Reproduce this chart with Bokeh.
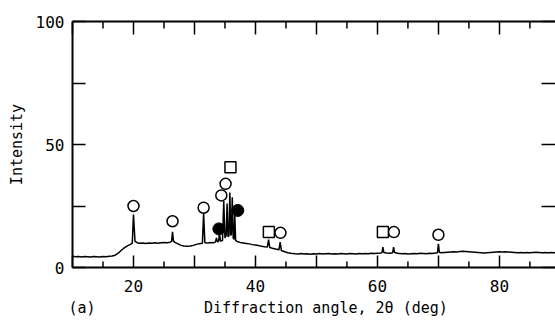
from bokeh.plotting import figure
from bokeh.models import LinearAxis, FixedTicker, Range1d, Title
from bokeh.embed import file_html
from bokeh.resources import INLINE

# ---- data ----
two_theta = [10.0, 10.5, 11.0, 11.5, 12.0, 12.5, 13.0, 13.5, 14.0, 14.5, 15.0, 15.5, 16.0, 16.5, 17.0, 17.5,
             18.0, 18.5, 19.0, 19.5, 19.8, 20.0, 20.25, 20.6, 21.0, 21.5, 22.0, 22.5, 23.0, 23.5, 24.0, 24.5,
             25.0, 25.5, 26.0, 26.25, 26.4, 26.55, 26.8, 27.3, 27.8, 28.3, 28.8, 29.3, 29.8, 30.3, 30.8, 31.3,
             31.5, 31.7, 32.2, 32.7, 33.2, 33.45, 33.6, 33.75, 33.95, 34.1, 34.25, 34.6, 34.8, 35.0, 35.2, 35.35,
             35.5, 35.65, 35.8, 35.95, 36.05, 36.2, 36.35, 36.5, 36.6, 36.75, 37.0, 37.5, 38.0, 38.5, 39.0, 39.5,
             40.0, 40.5, 41.0, 41.5, 41.95, 42.15, 42.35, 42.8, 43.3, 43.85, 44.05, 44.25, 44.8, 45.3, 45.8, 46.5,
             47.0, 47.5, 48.0, 48.5, 49.0, 49.5, 50.0, 50.5, 51.0, 51.5, 52.0, 52.5, 53.0, 53.5, 54.0, 54.5,
             55.0, 55.5, 56.0, 56.5, 57.0, 57.5, 58.0, 58.5, 59.0, 59.5, 60.0, 60.5, 60.75, 60.9, 61.05, 61.5,
             62.0, 62.5, 62.65, 62.8, 63.3, 64.0, 64.5, 65.0, 65.5, 66.0, 66.5, 67.0, 67.5, 68.0, 68.5, 69.0,
             69.5, 69.85, 70.0, 70.15, 70.5, 71.0, 71.5, 72.0, 72.5, 73.0, 73.5, 74.0, 74.5, 75.0, 75.5, 76.0,
             76.5, 77.0, 77.5, 78.0, 78.5, 79.0, 79.5, 80.0, 80.5, 81.0, 81.5, 82.0, 82.5, 83.0, 83.5, 84.0,
             84.5, 85.0, 85.5, 86.0, 86.5, 87.0, 87.5, 88.0, 88.5, 89.0, 89.5, 90.0]
intensity = [4.6, 4.4, 4.5, 4.3, 4.5, 4.4, 4.3, 4.5, 4.4, 4.3, 4.5, 4.4, 4.6, 4.7, 5.0, 5.8,
             7.0, 8.0, 8.8, 9.4, 9.9, 21.5, 10.6, 10.1, 9.9, 10.0, 9.8, 10.0, 9.9, 10.1, 9.9, 10.1,
             10.2, 10.1, 10.3, 10.6, 14.5, 10.8, 10.2, 9.6, 9.0, 8.7, 8.6, 8.7, 9.0, 9.4, 9.7, 9.9,
             22.0, 10.1, 10.0, 10.2, 10.1, 10.4, 12.0, 10.5, 10.6, 14.0, 10.8, 11.0, 27.0, 12.0, 13.0, 26.0,
             12.5, 12.8, 30.5, 13.0, 13.5, 28.6, 12.0, 11.5, 22.0, 11.0, 10.6, 10.2, 10.0, 9.8, 9.6, 9.3,
             9.1, 8.9, 8.6, 8.4, 8.3, 11.3, 8.1, 7.8, 7.5, 7.2, 10.3, 6.9, 6.4, 6.0, 5.8, 5.6,
             5.5, 5.7, 5.5, 5.6, 5.4, 5.6, 5.5, 5.7, 5.5, 5.6, 5.7, 5.5, 5.6, 5.5, 5.7, 5.6,
             5.5, 5.7, 5.6, 5.5, 5.7, 5.6, 5.7, 5.6, 5.8, 5.7, 5.8, 5.9, 6.0, 8.3, 6.1, 5.9,
             5.8, 6.0, 8.3, 6.1, 5.8, 5.6, 5.7, 5.5, 5.6, 5.7, 5.6, 5.8, 5.7, 5.6, 5.8, 5.7,
             5.9, 6.0, 9.6, 6.2, 6.0, 6.1, 6.2, 6.3, 6.4, 6.3, 6.5, 6.6, 6.5, 6.4, 6.3, 6.2,
             6.1, 6.0, 5.9, 6.0, 6.1, 6.2, 6.3, 6.4, 6.3, 6.4, 6.3, 6.2, 6.1, 6.0, 6.1, 6.0,
             6.1, 6.0, 6.1, 6.2, 6.1, 6.0, 6.1, 6.0, 6.1, 6.0, 6.1, 6.0]

open_circle_x = [20.0, 26.4, 31.5, 34.4, 35.1, 44.1, 62.7, 70.0]
open_circle_y = [25.0, 18.8, 24.3, 29.3, 34.0, 14.1, 14.4, 13.3]
square_x = [35.9, 42.2, 60.9]
square_y = [40.8, 14.4, 14.4]
filled_circle_x = [34.0, 37.1]
filled_circle_y = [15.7, 23.2]

x_labeled_ticks = [20, 40, 60, 80]
x_unlabeled_major_ticks = [10, 30, 50, 70, 90]
x_all_major_ticks = [10, 20, 30, 40, 50, 60, 70, 80, 90]
x_minor_ticks = [15, 25, 35, 45, 55, 65, 75, 85]
y_labeled_ticks = [0, 50, 100]
y_unlabeled_ticks = [25, 75]
y_all_ticks = [0, 25, 50, 75, 100]

panel_tag = "(a)"
x_title = "Diffraction angle, 2θ (deg)"
y_title = "Intensity"

X_MIN, X_MAX = 10, 89.2
Y_MIN, Y_MAX = 0, 100

FONT = "DejaVu Sans Mono"

p = figure(width=555, height=328, output_backend="svg", toolbar_location=None,
           x_range=Range1d(X_MIN, X_MAX), y_range=Range1d(Y_MIN, Y_MAX),
           min_border_left=72, min_border_right=0, min_border_top=21, min_border_bottom=61)
p.outline_line_color = None
p.grid.visible = False
p.background_fill_color = "white"
p.border_fill_color = "white"

# bottom axis: labelled long ticks are majors; other long ticks are minors; 5-deg ticks are rays
xa = p.xaxis[0]
xa.ticker = FixedTicker(ticks=x_labeled_ticks, minor_ticks=x_unlabeled_major_ticks)
xa.major_tick_in = 12
xa.major_tick_out = 0
xa.minor_tick_in = 12
xa.minor_tick_out = 0
xa.axis_line_width = 2
xa.major_tick_line_width = 1.5
xa.minor_tick_line_width = 1.5
xa.major_label_text_font = FONT
xa.major_label_text_font_size = "16px"
xa.major_label_text_color = "black"
xa.major_label_standoff = 12

# left axis
ya = p.yaxis[0]
ya.ticker = FixedTicker(ticks=y_labeled_ticks, minor_ticks=y_unlabeled_ticks)
ya.major_tick_in = 13
ya.major_tick_out = 0
ya.minor_tick_in = 13
ya.minor_tick_out = 0
ya.axis_line_width = 2
ya.major_tick_line_width = 1.5
ya.minor_tick_line_width = 1.5
ya.major_label_text_font = FONT
ya.major_label_text_font_size = "16px"
ya.major_label_text_color = "black"
ya.major_label_standoff = 8
ya.axis_label = y_title
ya.axis_label_text_font = FONT
ya.axis_label_text_font_size = "15px"
ya.axis_label_text_font_style = "normal"
ya.axis_label_text_color = "black"
ya.axis_label_standoff = 7

# top axis: only (label-free) minor ticks every 10 deg
ta = LinearAxis(ticker=FixedTicker(ticks=[], minor_ticks=x_all_major_ticks),
                minor_tick_in=13, minor_tick_out=0,
                axis_line_width=2, minor_tick_line_width=1.5)
p.add_layout(ta, "above")

# right axis: label-free ticks, line lies outside the picture
ra = LinearAxis(ticker=FixedTicker(ticks=[], minor_ticks=y_all_ticks),
                minor_tick_in=14, minor_tick_out=0, axis_line_color=None,
                minor_tick_line_width=1.5)
p.add_layout(ra, "right")

# short 5-deg ticks on bottom and top
p.ray(x=x_minor_ticks, y=[Y_MIN] * len(x_minor_ticks), length=6, length_units="screen",
      angle=90, angle_units="deg", line_color="black", line_width=1.5)
p.ray(x=x_minor_ticks, y=[Y_MAX] * len(x_minor_ticks), length=7, length_units="screen",
      angle=-90, angle_units="deg", line_color="black", line_width=1.5)

# curve
p.line(two_theta, intensity, line_color="black", line_width=1.5)

# phase markers
p.scatter(open_circle_x, open_circle_y, marker="circle", size=11,
          fill_color="white", line_color="black", line_width=1.5)
p.scatter(square_x, square_y, marker="square", size=11,
          fill_color="white", line_color="black", line_width=1.5)
p.scatter(filled_circle_x, filled_circle_y, marker="circle", size=12,
          fill_color="black", line_color="black", line_width=1)

# panel tag and x-axis title on one line (monospace font, non-breaking spaces)
bottom_title = Title(text=panel_tag + "\u00a0" * 12 + x_title, align="left", offset=-4,
                     standoff=5, text_font=FONT, text_font_size="15px",
                     text_font_style="normal", text_color="black")
p.add_layout(bottom_title, "below")

open("out.html", "w").write(file_html(p, INLINE))
